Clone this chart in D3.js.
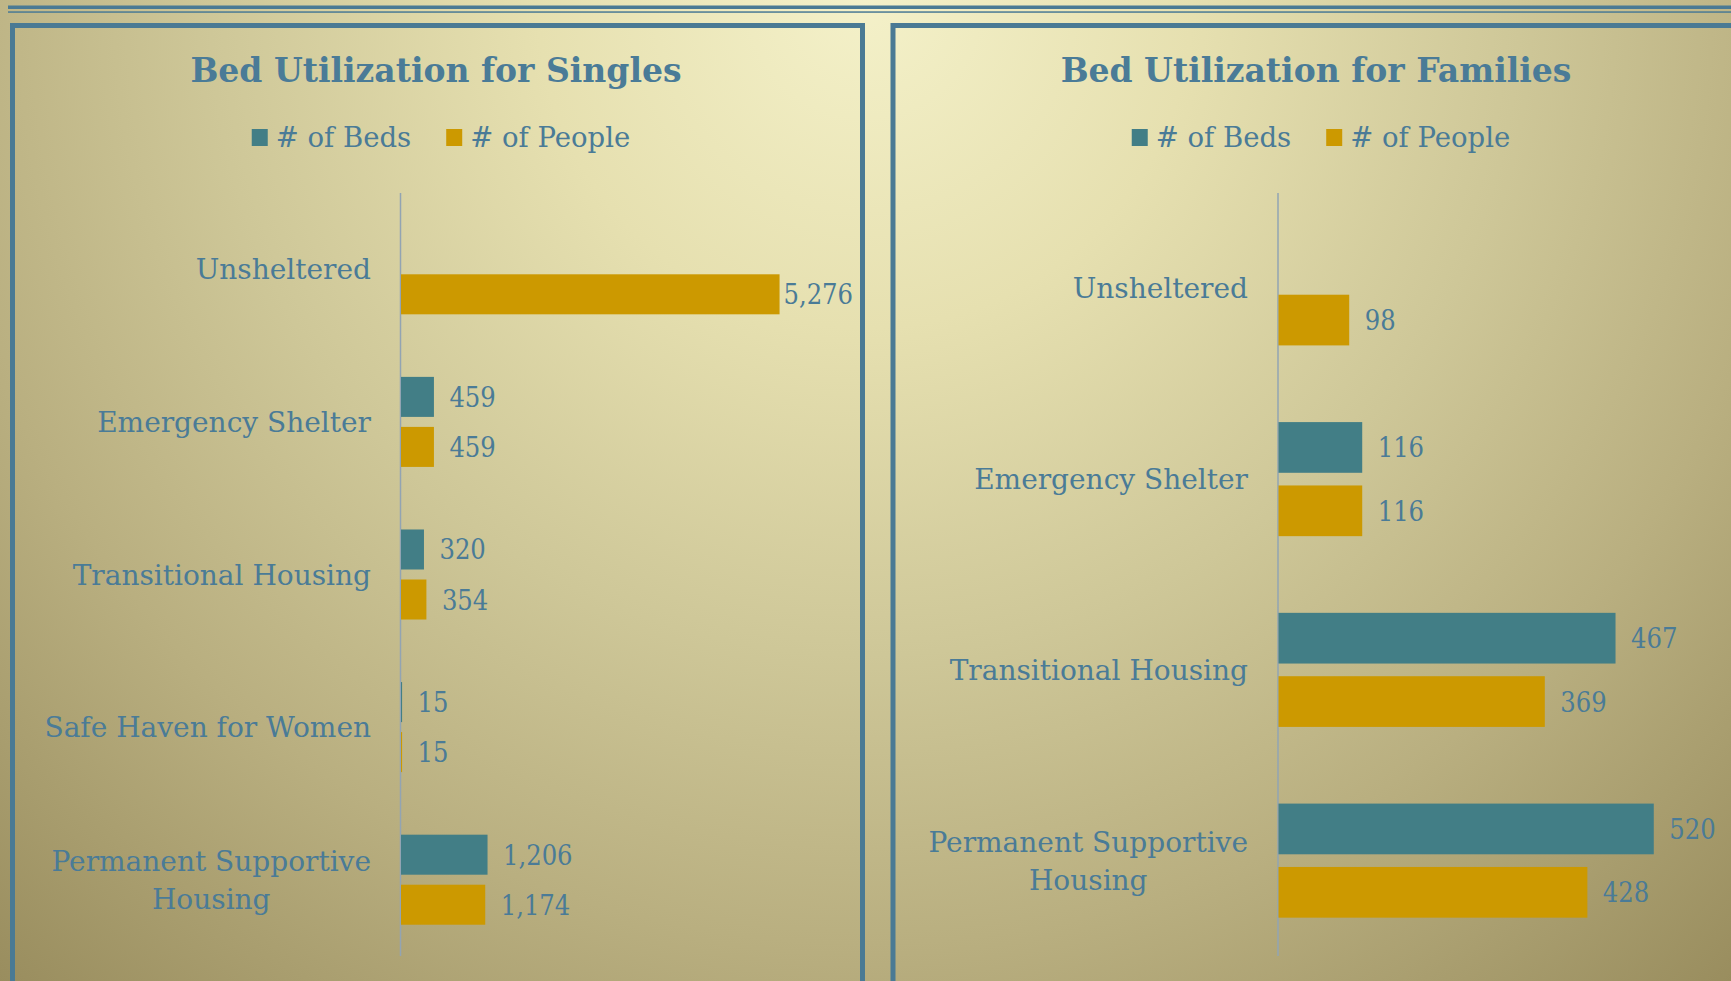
<!doctype html>
<html>
<head>
<meta charset="utf-8">
<style>
  body { margin: 0; background: #b8ae7e; }
  svg { display: block; }
  text { font-family: "DejaVu Serif", serif; fill: #4a7b97; }
  text.num { font-family: "DejaVu Serif Condensed", "DejaVu Serif", serif; font-stretch: condensed; }
</style>
<script src="https://d3js.org/d3.v7.min.js"></script>
</head>
<body>
<svg width="1731" height="981"></svg>
<script>
// data
var seriesNames = ["# of Beds", "# of People"];
var seriesColors = ["#427e86", "#cc9900"];

var singlesTitle = "Bed Utilization for Singles";
var singlesCategories = ["Unsheltered", "Emergency Shelter", "Transitional Housing", "Safe Haven for Women", "Permanent Supportive Housing"];
var singlesBeds = [null, 459, 320, 15, 1206];
var singlesPeople = [5276, 459, 354, 15, 1174];

var familiesTitle = "Bed Utilization for Families";
var familiesCategories = ["Unsheltered", "Emergency Shelter", "Transitional Housing", "Permanent Supportive Housing"];
var familiesBeds = [null, 116, 467, 520];
var familiesPeople = [98, 116, 369, 428];

var svg = d3.select("svg"),
    W = +svg.attr("width"),
    H = +svg.attr("height");

// background
var defs = svg.append("defs");
var grad = defs.append("radialGradient")
    .attr("id", "bg")
    .attr("gradientUnits", "userSpaceOnUse")
    .attr("cx", 865).attr("cy", 0).attr("r", 1310);
[[0, "#f4f1c9"], [0.25, "#e6e0b0"], [0.5, "#cec798"], [0.72, "#b9af80"], [1, "#998d5e"]].forEach(function(s) {
    grad.append("stop").attr("offset", s[0]).attr("stop-color", s[1]);
});
svg.append("rect").attr("width", W).attr("height", H).attr("fill", "url(#bg)");

// double rule at top
svg.append("rect").attr("x", 8).attr("y", 5.5).attr("width", W).attr("height", 3.5).attr("fill", "#4a7a94");
svg.append("rect").attr("x", 8).attr("y", 11.3).attr("width", W).attr("height", 1.5).attr("fill", "#4a7a94");

function drawChart(cfg) {
    var g = svg.append("g");

    g.append("rect")
     .attr("x", cfg.box[0]).attr("y", cfg.box[1])
     .attr("width", cfg.box[2]).attr("height", cfg.box[3])
     .attr("fill", "none").attr("stroke", "#4a7a94").attr("stroke-width", 5);

    g.append("text")
     .attr("x", cfg.cx).attr("y", 82)
     .attr("text-anchor", "middle")
     .attr("font-size", "33px")
     .attr("font-weight", "bold")
     .text(cfg.title);

    // legend
    var leg = g.append("g");
    var lx = 0;
    seriesNames.forEach(function(name, i) {
        leg.append("rect").attr("x", lx).attr("y", 129).attr("width", 16).attr("height", 17).attr("fill", seriesColors[i]);
        var t = leg.append("text").attr("x", lx + 24).attr("y", 147).attr("font-size", "27.5px").text(name);
        lx += 24 + t.node().getComputedTextLength() + (i == 0 ? 35 : 0);
    });
    leg.attr("transform", "translate(" + (cfg.cx + 5 - lx / 2) + ",0)");

    var y = d3.scaleBand()
        .domain(cfg.categories)
        .range([193, 956])
        .paddingInner(cfg.pad).paddingOuter(cfg.pad / 2);
    var ys = d3.scaleBand()
        .domain([0, 1])
        .range([0, y.bandwidth()])
        .paddingInner(0.2);
    var x = d3.scaleLinear().domain(cfg.xDomain).range(cfg.xRange);

    // axis line
    g.append("line")
     .attr("x1", x(0)).attr("x2", x(0))
     .attr("y1", 193).attr("y2", 956)
     .attr("stroke", "#92a4b3").attr("stroke-width", 1.5);

    // category labels
    cfg.categories.forEach(function(c) {
        var cy = y(c) + y.bandwidth() / 2;
        var t = g.append("text").attr("font-size", "28px").attr("text-anchor", "middle");
        var words = c.split(" "), lines = [], line = [];
        words.forEach(function(w) {
            line.push(w);
            t.text(line.join(" "));
            if (t.node().getComputedTextLength() > cfg.labelMax && line.length > 1) {
                line.pop();
                lines.push(line.join(" "));
                line = [w];
            }
        });
        lines.push(line.join(" "));
        t.text(null);
        var maxW = 0;
        var spans = lines.map(function(l, i) {
            var s = t.append("tspan").text(l);
            maxW = Math.max(maxW, s.node().getComputedTextLength());
            return s;
        });
        var top = cy - (lines.length - 1) * 38 / 2;
        spans.forEach(function(s, i) {
            s.attr("x", cfg.labelRight - maxW / 2).attr("y", top + i * 38 + 10);
        });
    });

    // bars and value labels
    [cfg.beds, cfg.people].forEach(function(vals, si) {
        vals.forEach(function(v, i) {
            if (v == null) return;
            var by = y(cfg.categories[i]) + ys(si);
            g.append("rect")
             .attr("x", x(0) + 0.5).attr("y", by)
             .attr("width", Math.max(1, x(v) - x(0)))
             .attr("height", ys.bandwidth())
             .attr("fill", seriesColors[si]);
            var t = g.append("text")
             .attr("class", "num")
             .attr("font-size", "27px")
             .attr("y", by + ys.bandwidth() / 2 + 10)
             .text(d3.format(",")(v));
            var tw = t.node().getComputedTextLength();
            t.attr("x", Math.min(x(v) + 16, cfg.labelLimit - tw));
        });
    });
}

drawChart({
    title: singlesTitle, cx: 436,
    box: [12.5, 25.5, 850, 1000],
    categories: singlesCategories, beds: singlesBeds, people: singlesPeople,
    xDomain: [0, 6000], xRange: [400.5, 831],
    pad: 0.41, labelRight: 371, labelMax: 380, labelLimit: 853
});

drawChart({
    title: familiesTitle, cx: 1316,
    box: [893, 25.5, 900, 1000],
    categories: familiesCategories, beds: familiesBeds, people: familiesPeople,
    xDomain: [0, 600], xRange: [1278, 1711],
    pad: 0.402, labelRight: 1248, labelMax: 380, labelLimit: 1731
});
</script>
</body>
</html>
